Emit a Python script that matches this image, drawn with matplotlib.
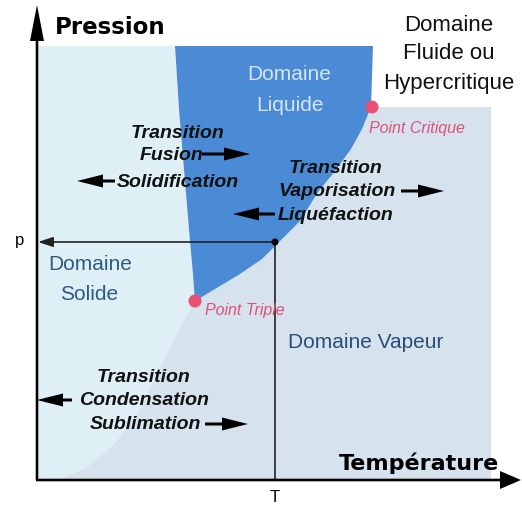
"""Diagramme de phases (pression / temperature) d'un corps pur."""

import matplotlib
matplotlib.use("Agg")
import matplotlib.pyplot as plt
from matplotlib.patches import Polygon, Circle

# diagram coordinates (one unit = one pixel, pressure axis pointing down)
melt_T = [175, 179, 184, 189, 193, 195]
melt_P = [47, 110, 170, 230, 275, 302]
vap_T = [195, 215, 240, 262, 281, 300, 318, 335, 351, 362, 371]
vap_P = [302, 290, 275, 260, 241, 222, 193, 172, 150, 130, 108]
subl_T = [195, 180, 160, 140, 115, 85, 60]
subl_P = [302, 330, 370, 410, 445, 470, 480]

triple = (195, 302)
critical = (372, 108)
state = (275, 243)

t_min, t_max = 37, 491
p_top, p_crit_top, p_bottom = 47, 108, 480

# region labels: text, x, y, colour
domain_labels = [
    ("Domaine", 289, 74, "#d3e5f8"),
    ("Liquide", 290, 105, "#d3e5f8"),
    ("Domaine", 90, 265, "#2f5a85"),
    ("Solide", 89, 294, "#2f5a85"),
    ("Domaine Vapeur", 366, 343, "#2b4d75"),
]
fluid_lines = ["Domaine", "Fluide ou", "Hypercritique"]
fluid_y = [25, 53, 83]

# transition labels: text, x, y
transition_labels = [
    ("Transition", 178, 133), ("Fusion", 172, 155), ("Solidification", 178, 182),
    ("Transition", 336, 168), ("Vaporisation", 337, 192), ("Liquéfaction", 336, 215),
    ("Transition", 143, 378), ("Condensation", 144, 401), ("Sublimation", 145, 425),
]
# arrows: x start, x end, y
transition_arrows = [
    (202, 250, 155), (115, 77, 182),
    (401, 444, 192), (275, 233, 215),
    (72, 37, 401), (205, 248, 425),
]


def fat_arrow(ax, x0, x1, y):
    ax.arrow(x0, y, x1 - x0, 0, width=3, head_width=13, head_length=26,
             length_includes_head=True, color="black", lw=0, zorder=6)


fig = plt.figure(figsize=(5.22, 5.06), dpi=100)
ax = fig.add_axes([0, 0, 1, 1])
ax.set_xlim(0, 522)
ax.set_ylim(506, 0)
ax.axis("off")

# vapour background
ax.add_patch(Polygon([(t_min, p_crit_top), (t_max, p_crit_top),
                      (t_max, p_bottom), (t_min, p_bottom)],
                     closed=True, fc="#d6e2ee", ec="none", zorder=1))
# solid domain
solid = ([(t_min, p_top)] + list(zip(melt_T, melt_P))
         + list(zip(subl_T, subl_P))[1:] + [(t_min, p_bottom)])
ax.add_patch(Polygon(solid, closed=True, fc="#dfeff6", ec="none", zorder=2))
# liquid domain
liquid = ([(melt_T[0], p_top), (critical[0] + 1, p_top)]
          + list(zip(vap_T, vap_P))[::-1] + list(zip(melt_T, melt_P))[::-1])
ax.add_patch(Polygon(liquid, closed=True, fc="#4b8bd6", ec="none", zorder=3))

# triple and critical points
for pt in (triple, critical):
    ax.add_patch(Circle(pt, 6.5, fc="#ec4f74", ec="none", zorder=5))
ax.text(369, 128, "Point Critique", color="#e0507a", fontsize=11.5,
        style="italic", family="Liberation Sans", va="center", zorder=7)
ax.text(205, 311, "Point Triple", color="#e0507a", fontsize=11.5,
        style="italic", family="Liberation Sans", va="center", zorder=7)

# state point p, T
ax.plot([state[0], state[0]], [state[1], p_bottom], color="#222222", lw=1.2,
        zorder=5)
ax.annotate("", xy=(t_min + 1, state[1]), xytext=(state[0], state[1]),
            arrowprops=dict(arrowstyle="-|>,head_length=0.9,head_width=0.3",
                            color="#222222", lw=1.2, shrinkA=0, shrinkB=0),
            zorder=5)
ax.add_patch(Circle(state, 3.5, fc="black", ec="none", zorder=6))
ax.text(20, 240, "p", fontsize=12, family="Liberation Sans", ha="center",
        va="center")
ax.text(state[0], 498, "T", fontsize=12, family="Liberation Sans",
        ha="center", va="center")

# axes
ax.arrow(t_min, p_bottom + 1, 0, 5 - p_bottom, width=2.6, head_width=14,
         head_length=36, length_includes_head=True, color="black", lw=0,
         zorder=8)
ax.arrow(t_min - 1, p_bottom + 1, 522 - t_min, 0, width=2.6, head_width=18,
         head_length=21, length_includes_head=True, color="black", lw=0,
         zorder=8)
ax.text(55, 27, "Pression", fontsize=16.5, weight="bold", va="center",
        family="DejaVu Sans")
ax.text(499, 463, "Température", fontsize=16, weight="bold", va="center",
        ha="right", family="DejaVu Sans", zorder=9)

# labels
for txt, x, y, col in domain_labels:
    ax.text(x, y, txt, color=col, fontsize=15, family="Liberation Sans",
            ha="center", va="center", zorder=7)
for txt, y in zip(fluid_lines, fluid_y):
    ax.text(449, y, txt, color="#111111", fontsize=16, family="Liberation Sans",
            ha="center", va="center", zorder=7)
for txt, x, y in transition_labels:
    ax.text(x, y, txt, color="#111111", fontsize=14, weight="bold",
            style="italic", family="Liberation Sans", ha="center", va="center",
            zorder=7)
for x0, x1, y in transition_arrows:
    fat_arrow(ax, x0, x1, y)

fig.savefig("out.png", dpi=100)
